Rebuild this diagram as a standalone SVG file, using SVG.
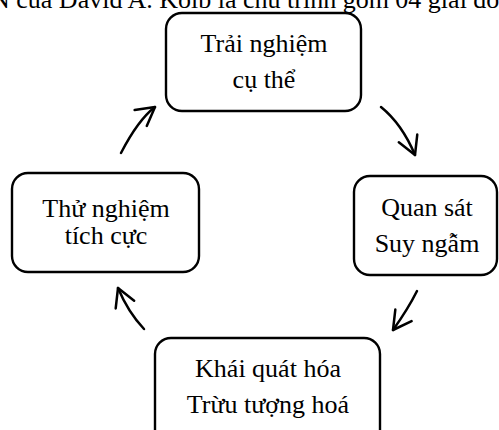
<svg xmlns="http://www.w3.org/2000/svg" width="499" height="430" viewBox="0 0 499 430">
<style>
.box{fill:#fff;stroke:#000;stroke-width:2.4}
.lbl{font-family:"Liberation Serif","Times New Roman",serif;font-size:26px;fill:#000;text-anchor:middle}
.hdr{font-family:"Liberation Serif","Times New Roman",serif;font-size:26px;fill:#000}
.arr{fill:none;stroke:#000;stroke-width:2.5;stroke-linecap:round}
</style>
<defs>
<marker id="head" markerUnits="userSpaceOnUse" markerWidth="40" markerHeight="40" refX="0" refY="0" orient="auto" overflow="visible">
<path d="M-18,-10 L0,0 L-18,10" fill="none" stroke="#000" stroke-width="2.5" stroke-linecap="round" stroke-linejoin="round"/>
</marker>
</defs>
<rect width="499" height="430" fill="#fff"/>
<text class="hdr" x="-9" y="8">N của David A. Kolb là chu trình gồm 04 giai đoạn</text>
<g id="node-trai-nghiem">
<rect class="box" x="166" y="13" width="195" height="98" rx="16"/>
<text class="lbl" x="264" y="52">Trải nghiệm</text>
<text class="lbl" x="264" y="88">cụ thể</text>
</g>
<g id="node-quan-sat">
<rect class="box" x="354" y="176" width="143" height="99" rx="16"/>
<text class="lbl" x="427" y="216">Quan sát</text>
<text class="lbl" x="427" y="252">Suy ngẫm</text>
</g>
<g id="node-khai-quat">
<rect class="box" x="155" y="338" width="225" height="110" rx="16"/>
<text class="lbl" x="268" y="377">Khái quát hóa</text>
<text class="lbl" x="268" y="413">Trừu tượng hoá</text>
</g>
<g id="node-thu-nghiem">
<rect class="box" x="12" y="173" width="187" height="99" rx="16"/>
<text class="lbl" x="106" y="217">Thử nghiệm</text>
<text class="lbl" x="106" y="244">tích cực</text>
</g>
<g id="connectors">
<path class="arr" d="M121,153 Q138,120 155,107" marker-end="url(#head)"/>
<path class="arr" d="M381,107 Q402,124 415,155" marker-end="url(#head)"/>
<path class="arr" d="M417,291 Q408,309 393,330" marker-end="url(#head)"/>
<path class="arr" d="M144,329 Q128,312 118,288" marker-end="url(#head)"/>
</g>
</svg>
